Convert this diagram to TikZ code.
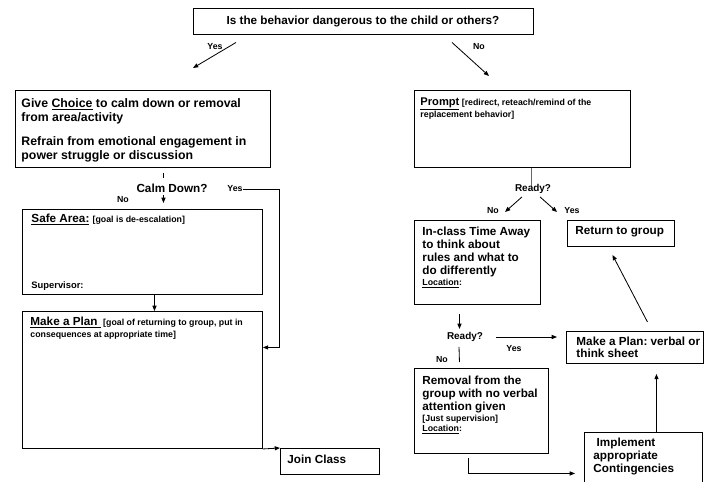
\documentclass[tikz,border=0pt]{standalone}
\usepackage{fontspec}
\setmainfont{Liberation Sans}
\usetikzlibrary{arrows.meta}
\newlength{\pxu}
\setlength{\pxu}{0.03cm}
\frenchspacing

\begin{document}
\begin{tikzpicture}[x=0.03cm, y=-0.03cm,
		box/.style={draw,line width=0.8pt,anchor=north west,inner sep=0pt,font=\bfseries},
		lbl/.style={inner sep=0pt,font=\bfseries\fontsize{7.5}{9}\selectfont},
		arr/.style={line width=0.7pt,-{Triangle[length=4.5pt,width=3.5pt]}},
		ln/.style={line width=0.7pt}
		]
		\useasboundingbox (0,0) rectangle (712,481);
		\clip (0,0) rectangle (712,481);
		%Question at the top
		\node[box,anchor=center,minimum width=340\pxu,minimum height=26\pxu,font=\bfseries\fontsize{10}{12}\selectfont] (danger) at (363,21) {Is the behavior dangerous to the child or others?};
		\coordinate (yesend) at (193,68);
		\coordinate (noend) at (489,76);
		\draw[arr] ([xshift=-127\pxu,yshift=-8\pxu]danger.south) -- (yesend);
		\draw[arr] ([xshift=89\pxu,yshift=-8\pxu]danger.south) -- (noend);
		\node[lbl] (yes1) at (215,47) {Yes};
		\node[lbl] (no1) at (479,47) {No};
		
		%Left branch
		\node[box] (choice) at (15,90) {\parbox[t][77\pxu][t]{255\pxu}{\raggedright\leftskip=6\pxu\relax\fontsize{10.5}{12}\selectfont\vspace*{8\pxu}%
				Give \underline{Choice} to calm down or removal\\
				from area/activity\\[8.5pt]
				Refrain from emotional engagement in\\
				power struggle or discussion}};
		\node[box] (safe) at (22,209) {\parbox[t][85\pxu][s]{240\pxu}{\raggedright\leftskip=9\pxu\relax\vspace*{5\pxu}%
				{\fontsize{10}{12}\selectfont\underline{Safe Area:}} {\fontsize{7.5}{9}\selectfont[goal is de-escalation]}\par
				\vfill
				{\fontsize{8}{9.6}\selectfont Supervisor:\par}\vspace*{4\pxu}}};
		\node[box] (plan) at (22,311) {\parbox[t][137\pxu][t]{240\pxu}{\raggedright\leftskip=8\pxu\relax\fontsize{7.5}{9.5}\selectfont\vspace*{6\pxu}%
				{\fontsize{10}{12}\selectfont\underline{Make a Plan\ }} [goal of returning to group, put in\\
				consequences at appropriate time]}};
		\node[box] (join) at (280,448) {\parbox[t][26\pxu][t]{99\pxu}{\raggedright\leftskip=7\pxu\relax\fontsize{10}{12}\selectfont\vspace*{7\pxu}Join Class}};
		\node[lbl,font=\bfseries\fontsize{10}{12}\selectfont] (calm) at (172,188) {Calm Down?};
		\node[lbl] (no2) at (123,200) {No};
		\node[lbl] (yes2) at (235,189) {Yes};
		
		\draw[ln] ([xshift=20.5\pxu,yshift=-5\pxu]choice.south) -- ([xshift=20.5\pxu,yshift=-10\pxu]choice.south);
		\draw[arr] ([xshift=21\pxu,yshift=14\pxu]safe.north) -- ([xshift=21\pxu,yshift=6\pxu]safe.north);
		\draw[arr] (yes2.east) -- ++(37,0) |- ([yshift=32.5\pxu]plan.east);
		\draw[arr] ([xshift=12\pxu]safe.south) -- ([xshift=12\pxu]plan.north);
		\draw[arr] (plan.south east) -- (join.north west);
		
		%Right branch
		\node[box] (prompt) at (414,90) {\parbox[t][77\pxu][t]{216\pxu}{\raggedright\leftskip=6\pxu\relax\fontsize{7.5}{9}\selectfont\vspace*{7\pxu}%
				{\fontsize{9.5}{12}\selectfont\underline{Prompt}} [redirect, reteach/remind of the\\
				replacement behavior]}};
		\node[box] (inclass) at (414,220) {\parbox[t][84\pxu][t]{126\pxu}{\raggedright\leftskip=8\pxu\relax\fontsize{10}{11}\selectfont\vspace*{7\pxu}%
				In-class Time Away\\ to think about\\ rules and what to\\ do differently\par
				{\fontsize{7.5}{9.4}\selectfont\underline{Location}:\par}}};
		\node[box] (ret) at (567,220) {\parbox[t][26\pxu][t]{107\pxu}{\raggedright\leftskip=8\pxu\relax\fontsize{10}{12}\selectfont\vspace*{6\pxu}Return to group}};
		\node[box] (mplan2) at (566,331) {\parbox[t][32\pxu][t]{137\pxu}{\raggedright\leftskip=10\pxu\relax\fontsize{10}{9.5}\selectfont\vspace*{6\pxu}%
				Make a Plan: verbal or\\ think sheet}};
		\node[box] (removal) at (414,368) {\parbox[t][85\pxu][t]{134\pxu}{\raggedright\leftskip=8\pxu\relax\fontsize{10}{10.7}\selectfont\vspace*{8\pxu}%
				Removal from the\\ group with no verbal\\ attention given\par\vspace{1.7pt}
				{\fontsize{7.5}{8.5}\selectfont [Just supervision]\\ \underline{Location}:\par}}};
		\node[box] (impl) at (584,432) {\parbox[t][60\pxu][t]{118\pxu}{\raggedright\leftskip=9\pxu\relax\fontsize{10}{11}\selectfont\vspace*{6\pxu}%
				\ Implement\\ appropriate\\ Contingencies}};
		\node[lbl,font=\bfseries\fontsize{8.5}{10}\selectfont] (ready1) at (533,189) {Ready?};
		\node[lbl] (no3) at (493,211) {No};
		\node[lbl] (yes3) at (572,211) {Yes};
		\node[lbl,font=\bfseries\fontsize{8.5}{10}\selectfont] (ready2) at (465,337) {Ready?};
		\node[lbl] (yes4) at (514,349) {Yes};
		\node[lbl] (no4) at (442,360) {No};
		
		\coordinate (noend2) at (505,212);
		\coordinate (yesend2) at (557,212);
		\draw[ln,black!60] ([xshift=9\pxu]prompt.south) -- ([xshift=9\pxu,yshift=-18\pxu]prompt.south);
		\draw[arr] ([xshift=-11\pxu,yshift=-3\pxu]ready1.south) -- (noend2);
		\draw[arr] ([xshift=7\pxu,yshift=-3\pxu]ready1.south) -- (yesend2);
		\draw[arr] ([xshift=-18\pxu,yshift=-9\pxu]inclass.south) -- ([xshift=-18\pxu,yshift=-24\pxu]inclass.south);
		\draw[arr] ([xshift=13\pxu]ready2.east) -- ([xshift=-9\pxu]mplan2.west |- ready2.east);
		\draw[ln] ([xshift=-6\pxu,yshift=-5\pxu]ready2.south) -- ([xshift=-22\pxu,yshift=6\pxu]removal.north);
		\draw[arr] ([xshift=-13\pxu,yshift=-4\pxu]removal.south) |- ([xshift=-9\pxu,yshift=-11\pxu]impl.west);
		\draw[arr] ([xshift=13\pxu]impl.north) -- ([xshift=21.5\pxu,yshift=-10\pxu]mplan2.south);
		\draw[arr] ([xshift=12.5\pxu,yshift=9\pxu]mplan2.north) -- ([xshift=-8.5\pxu,yshift=-8\pxu]ret.south);
	\end{tikzpicture}
\end{document}
